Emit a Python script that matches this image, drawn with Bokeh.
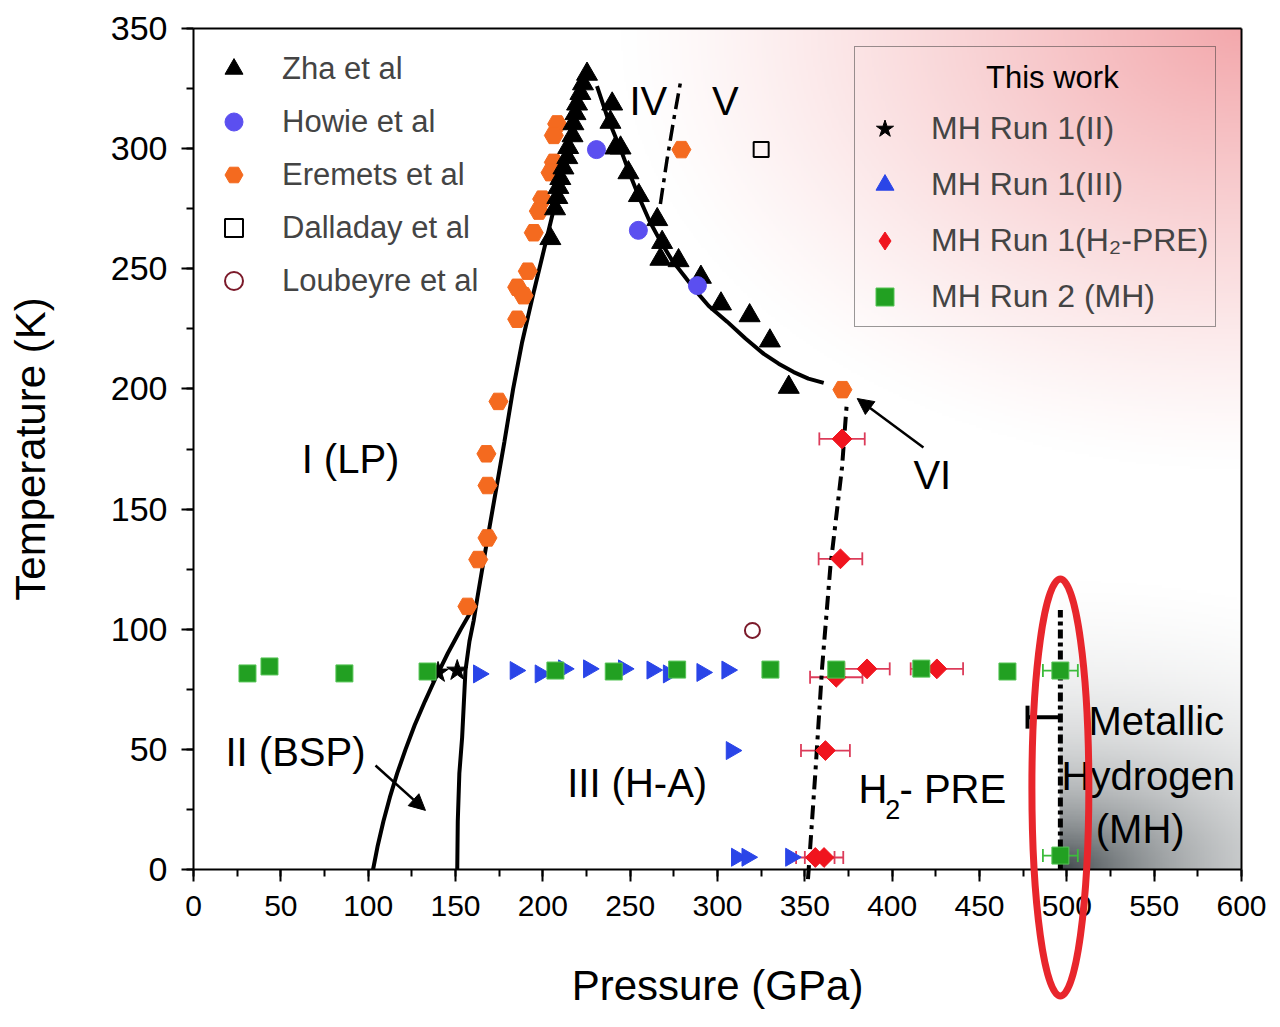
import numpy as np
from bokeh.plotting import figure
from bokeh.models import (ColumnDataSource, Legend, LegendItem, Whisker, TeeHead, Arrow,
                          NormalHead, SingleIntervalTicker, FixedTicker, Range1d, LinearAxis)
from bokeh.core.properties import value
from bokeh.embed import file_html
from bokeh.resources import INLINE

FONT = "Liberation Sans"

# ---------------- data (Pressure GPa, Temperature K) ----------------
zha_p = [225.3, 223.0, 221.5, 219.6, 218.7, 217.5, 217.0, 214.5, 214.0, 211.8, 210.0, 208.9, 208.3, 207.0, 204.3,
         239.7, 238.7, 241.5, 244.5, 249.0, 255.0, 265.5, 268.3, 267.3, 277.7, 290.5, 302.0, 318.4, 330.0, 340.8]
zha_t = [331.0, 327.0, 323.0, 318.6, 314.6, 310.4, 305.4, 300.5, 296.3, 292.0, 287.6, 283.9, 279.7, 275.0, 262.6,
         318.6, 311.0, 300.3, 300.3, 290.0, 280.5, 270.5, 261.0, 254.0, 253.4, 246.5, 235.4, 230.5, 220.0, 200.7]

howie_p = [230.7, 254.7, 288.5]
howie_t = [299.6, 266.0, 243.0]

eremets_p = [208.2, 206.3, 206.3, 204.4, 199.6, 197.7, 194.8, 191.4, 185.3, 189.0, 185.3, 174.6,
             167.7, 168.3, 168.3, 163.0, 156.8, 279.3, 371.5]
eremets_t = [310.3, 305.5, 294.3, 290.0, 279.0, 274.0, 265.0, 249.0, 242.3, 238.8, 229.0, 194.8,
             173.0, 159.8, 138.0, 129.0, 109.5, 299.6, 199.7]

dalladay_p = [325.0]
dalladay_t = [299.6]

loubeyre_p = [320.0]
loubeyre_t = [99.5]

run1_ii_p = [140.0, 151.0]
run1_ii_t = [82.0, 82.8]

run1_iii_p = [163.3, 184.3, 198.6, 212.0, 226.3, 246.3, 262.6, 272.0, 291.2, 305.5, 308.0, 311.0, 317.0, 342.0]
run1_iii_t = [81.4, 82.8, 81.4, 83.5, 83.5, 83.5, 83.0, 81.4, 82.0, 83.0, 49.5, 5.1, 5.1, 5.1]

run1_pre_p = [371.3, 370.4, 368.0, 385.6, 425.6, 361.8, 356.0, 361.0]
run1_pre_t = [179.2, 129.3, 80.0, 83.5, 83.5, 49.5, 5.0, 5.0]
run1_pre_err = [13.0, 12.5, 15.0, 13.0, 15.0, 14.0, 11.0, 11.0]

run2_p = [30.9, 43.5, 86.4, 134.0, 207.2, 240.6, 276.9, 330.3, 368.0, 416.7, 466.0, 496.3, 496.3]
run2_t = [81.6, 84.5, 81.6, 82.4, 82.8, 82.4, 83.2, 83.2, 83.2, 83.6, 82.4, 82.8, 5.8]
run2_err = [0, 0, 0, 0, 0, 0, 0, 0, 0, 0, 0, 10.0, 10.0]

# phase boundaries
b_i_ii_p = [102.8, 105.5, 108.7, 112.4, 116.6, 121.4, 126.6, 132.5, 138.8, 145.6, 153.0, 160.9]
b_i_ii_t = [0.0, 10.0, 20.0, 30.0, 40.0, 50.0, 60.0, 70.0, 80.0, 90.0, 100.0, 110.0]

b_iii_p = [151.0, 151.3, 152.2, 153.8, 155.7, 158.0, 160.4, 162.5, 166.0, 172.0, 178.0, 183.0,
           188.0, 195.0, 203.0, 211.0, 218.0, 225.3]
b_iii_t = [0.0, 20.0, 40.0, 55.0, 82.8, 95.0, 103.6, 113.0, 128.0, 153.0, 178.0, 200.0,
           219.0, 241.0, 265.0, 289.0, 310.0, 332.5]

b_melt_p = [231.0, 237.0, 244.4, 250.0, 255.9, 261.0, 267.3, 274.0, 281.0, 287.3, 295.0, 305.5,
            316.0, 326.5, 335.0, 343.6, 352.0, 360.8]
b_melt_t = [326.0, 313.0, 300.0, 289.0, 278.4, 270.0, 261.5, 253.5, 247.0, 241.0, 234.5, 228.0,
            221.0, 214.6, 210.5, 207.0, 204.3, 202.5]

b_iv_v_p = [267.3, 271.0, 275.0, 278.8]
b_iv_v_t = [277.0, 295.0, 312.3, 327.6]

b_pre_p = [351.8, 352.2, 356.0, 359.9, 364.6, 371.3, 374.0]
b_pre_t = [-4.0, 0.0, 40.0, 84.1, 125.8, 167.4, 193.8]

b_mh_p = [496.3, 496.3]
b_mh_t = [0.0, 108.0]

mh_bar_t = [63.4]
mh_bar_lo = [477.5]
mh_bar_hi = [496.3]

# region labels
label_text = ["I (LP)", "II (BSP)", "III (H-A)", "IV", "V", "VI", "Metallic", "Hydrogen", "(MH)"]
label_p = [89.9, 58.4, 254.0, 260.4, 304.5, 423.0, 551.2, 546.6, 542.0]
label_t = [171.0, 48.7, 35.8, 320.0, 320.0, 164.0, 62.0, 39.1, 17.0]

# arrows (start -> end)
arrow_p0 = [104.2, 417.9]
arrow_t0 = [43.3, 175.6]
arrow_p1 = [132.8, 380.0]
arrow_t1 = [24.6, 196.0]

# highlight ellipse (centre, full width / height)
ell_p = [496.3]
ell_t = [34.1]
ell_w = [32.6]
ell_h = [173.5]

# ---------------- figure geometry ----------------
W, H = 1280, 1027
AX_L, AX_R, AX_T, AX_B = 193, 1241, 28, 869      # pixel box of the axes
kx = (AX_R - AX_L) / 600.0
ky = (AX_B - AX_T) / 350.0
x_range = Range1d(-AX_L / kx, 600 + (W - AX_R) / kx)
y_range = Range1d(-(H - AX_B) / ky, 350 + AX_T / ky)

p = figure(width=W, height=H, x_range=x_range, y_range=y_range, min_border=0,
           output_backend="svg", toolbar_location=None)
p.grid.visible = False
p.outline_line_color = None
p.background_fill_color = "white"
p.border_fill_color = "white"

# background gradients (pink upper-right, grey metallic region)
nx, ny = 600, 350
P = (np.arange(nx) + 0.5) * 600 / nx
T = (np.arange(ny) + 0.5) * 350 / ny
PP, TT = np.meshgrid(P, T)
dx = (600 - PP) * kx
dy = (350 - TT) * ky
r = np.sqrt((dx / 620) ** 2 + (dy / 440) ** 2)
w = np.clip(1 - r, 0, 1) ** 1.2
rgb = 255 * (1 - w)[..., None] + np.array([243, 168, 172]) * w[..., None]
gx = (PP - 496.3) * kx
gy = TT * ky
rg = np.sqrt((gx / 150) ** 2 + (gy / 85) ** 2)
wg = np.clip((np.exp(-0.95 * rg) - 0.04) / 0.96, 0, 1) * (PP >= 496.3)
rgb = rgb * (1 - wg)[..., None] + np.array([62, 70, 74]) * wg[..., None]
img = np.empty((ny, nx), dtype=np.uint32)
view = img.view(dtype=np.uint8).reshape((ny, nx, 4))
view[..., 0] = rgb[..., 0].astype(np.uint8)
view[..., 1] = rgb[..., 1].astype(np.uint8)
view[..., 2] = rgb[..., 2].astype(np.uint8)
view[..., 3] = 255
p.image_rgba(image=[img], x=0, y=0, dw=600, dh=350, level="image")

# region labels
p.text(x=label_p, y=label_t, text=label_text, text_font=value(FONT), text_font_size="40px",
       text_align="center", text_baseline="middle", text_color="black")
p.text(x=[380.7], y=[33.7], text=["H"], text_font=value(FONT), text_font_size="40px",
       text_align="left", text_baseline="middle")
p.text(x=[396.0], y=[25.0], text=["2"], text_font=value(FONT), text_font_size="27px",
       text_align="left", text_baseline="middle")
p.text(x=[404.2], y=[33.7], text=["- PRE"], text_font=value(FONT), text_font_size="40px",
       text_align="left", text_baseline="middle")
p.text(x=[491.7], y=[329.6], text=["This work"], text_font=value(FONT), text_font_size="31px",
       text_align="center", text_baseline="middle")

# boundaries
p.line(b_i_ii_p, b_i_ii_t, line_color="black", line_width=4)
p.line(b_iii_p, b_iii_t, line_color="black", line_width=4)
p.line(b_melt_p, b_melt_t, line_color="black", line_width=4)
p.line(b_iv_v_p, b_iv_v_t, line_color="black", line_width=3.5, line_dash="16 6 4 6")
p.line(b_pre_p, b_pre_t, line_color="black", line_width=4, line_dash="14 6 4 6")
p.line(b_mh_p, b_mh_t, line_color="black", line_width=5, line_dash="9 4 4 4")

p.add_layout(Whisker(base=mh_bar_t[0], lower=mh_bar_lo[0], upper=mh_bar_hi[0], dimension="width",
                     line_color="black", line_width=4, upper_head=None,
                     lower_head=TeeHead(size=23, line_color="black", line_width=4)))

for i in range(2):
    p.add_layout(Arrow(x_start=arrow_p0[i], y_start=arrow_t0[i], x_end=arrow_p1[i], y_end=arrow_t1[i],
                       line_color="black", line_width=2.5,
                       end=NormalHead(size=16, fill_color="black", line_color="black")))

# error bars
ERR_RED = "#dc3c5a"
src_pre = ColumnDataSource(dict(p=run1_pre_p, t=run1_pre_t,
                                lo=[a - e for a, e in zip(run1_pre_p, run1_pre_err)],
                                hi=[a + e for a, e in zip(run1_pre_p, run1_pre_err)]))
p.add_layout(Whisker(source=src_pre, base="t", lower="lo", upper="hi", dimension="width",
                     line_color=ERR_RED, line_width=1.8,
                     lower_head=TeeHead(size=13, line_color=ERR_RED, line_width=1.8),
                     upper_head=TeeHead(size=13, line_color=ERR_RED, line_width=1.8)))
ERR_GRN = "#3cbc3c"
idx = [i for i, e in enumerate(run2_err) if e > 0]
src_r2e = ColumnDataSource(dict(t=[run2_t[i] for i in idx],
                                lo=[run2_p[i] - run2_err[i] for i in idx],
                                hi=[run2_p[i] + run2_err[i] for i in idx]))
p.add_layout(Whisker(source=src_r2e, base="t", lower="lo", upper="hi", dimension="width",
                     line_color=ERR_GRN, line_width=1.8,
                     lower_head=TeeHead(size=13, line_color=ERR_GRN, line_width=1.8),
                     upper_head=TeeHead(size=13, line_color=ERR_GRN, line_width=1.8)))

# markers
RED = "#f0141e"
r_ere = p.scatter(eremets_p, eremets_t, marker="hex", size=19, fill_color="#f46a1f", line_color="#f46a1f")
r_zha = p.scatter(zha_p, zha_t, marker="triangle", size=21, fill_color="black", line_color="black")
r_how = p.scatter(howie_p, howie_t, marker="circle", size=18, fill_color="#5b4ff0", line_color="#5b4ff0")
r_dal = p.scatter(dalladay_p, dalladay_t, marker="square", size=15, fill_color=None, line_color="black", line_width=2)
r_lou = p.scatter(loubeyre_p, loubeyre_t, marker="circle", size=15, fill_color=None, line_color="#7b1a2a", line_width=2)
r_st = p.scatter(run1_ii_p, run1_ii_t, marker="star", size=22, fill_color="black", line_color="black")
r_tri = p.scatter(run1_iii_p, run1_iii_t, marker="triangle", angle=-np.pi / 2, size=18,
                  fill_color="#2a45e8", line_color="#2a45e8")
r_pre = p.scatter(run1_pre_p, run1_pre_t, marker="square", angle=np.pi / 4, size=14,
                  fill_color=RED, line_color=RED)
r_r2 = p.scatter(run2_p, run2_t, marker="square", size=17, fill_color="#22a022", line_color="#55c455")
# legend-only diamond (legend glyphs are never rotated)
r_pre_leg = p.scatter(run1_pre_p[:1], run1_pre_t[:1], marker="diamond", size=14,
                      fill_color=RED, line_color=RED, visible=False)

# highlight ellipse (on top of everything)
p.ellipse(x=ell_p, y=ell_t, width=ell_w, height=ell_h, fill_color=None, line_color="#e8262c",
          line_width=7, level="overlay")

# axes: drawn at fixed data positions so the frame can span the whole canvas
p.xaxis.fixed_location = 0
p.yaxis.fixed_location = 0
for ax in p.xaxis:
    ax.ticker = SingleIntervalTicker(interval=50, num_minor_ticks=2)
    ax.bounds = (0, 600)
    ax.axis_label = "Pressure (GPa)"
    ax.axis_label_standoff = 43
for ax in p.yaxis:
    ax.ticker = SingleIntervalTicker(interval=50, num_minor_ticks=2)
    ax.bounds = (0, 350)
    ax.axis_label = "Temperature (K)"
    ax.axis_label_standoff = 54
for ax in list(p.xaxis) + list(p.yaxis):
    ax.axis_line_width = 2
    ax.major_tick_line_width = 2
    ax.minor_tick_line_width = 2
    ax.major_tick_out = 12
    ax.major_tick_in = 0
    ax.minor_tick_out = 7
    ax.minor_tick_in = 0
    ax.major_label_standoff = 14
    ax.axis_label_text_font = FONT
    ax.axis_label_text_font_style = "normal"
    ax.axis_label_text_font_size = "42px"
    ax.major_label_text_font = FONT
    ax.major_label_text_color = "black"
    ax.axis_label_text_color = "black"
p.xaxis.major_label_text_font_size = "30px"
p.yaxis.major_label_text_font_size = "34px"

top_ax = LinearAxis(fixed_location=350, bounds=(0, 600), ticker=FixedTicker(ticks=[]),
                    axis_line_width=2, major_label_text_font_size="0px")
right_ax = LinearAxis(fixed_location=600, bounds=(0, 350), ticker=FixedTicker(ticks=[]),
                      axis_line_width=2, major_label_text_font_size="0px")
p.add_layout(top_ax, "above")
p.add_layout(right_ax, "right")

# legends (location = lower-left corner, screen px from the canvas' lower-left)
leg1 = Legend(items=[LegendItem(label="Zha et al", renderers=[r_zha]),
                     LegendItem(label="Howie et al", renderers=[r_how]),
                     LegendItem(label="Eremets et al", renderers=[r_ere]),
                     LegendItem(label="Dalladay et al", renderers=[r_dal]),
                     LegendItem(label="Loubeyre et al", renderers=[r_lou])],
              location=(211, 724), margin=0, padding=0, glyph_width=45, glyph_height=45,
              label_height=30, spacing=8, label_standoff=26, label_text_font=FONT,
              label_text_font_size="31px", background_fill_alpha=0, border_line_color=None)
p.add_layout(leg1)

leg2 = Legend(items=[LegendItem(label="MH Run 1(II)", renderers=[r_st]),
                     LegendItem(label="MH Run 1(III)", renderers=[r_tri]),
                     LegendItem(label="MH Run 1(H\u2082-PRE)", renderers=[r_pre_leg]),
                     LegendItem(label="MH Run 2 (MH)", renderers=[r_r2])],
              location=(854, 700), margin=0, padding=7, glyph_width=45, glyph_height=45,
              label_height=30, spacing=11, label_standoff=24, label_text_font=FONT,
              label_text_font_size="32px", background_fill_alpha=0,
              border_line_color="#333333", border_line_width=1.5,
              title="\u00a0", title_text_font_size="31px", title_standoff=16)
p.add_layout(leg2)

open("out.html", "w").write(file_html(p, INLINE))
